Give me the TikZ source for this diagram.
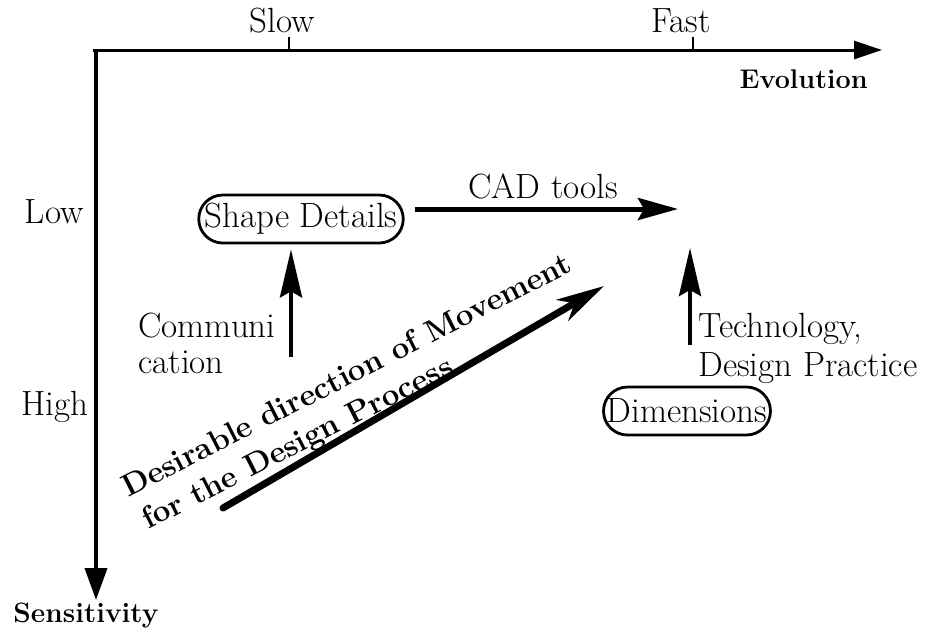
\documentclass[tikz,border=0pt]{standalone}
\usepackage{fontspec}
\usetikzlibrary{arrows.meta,shapes.misc}
\begin{document}
\begin{tikzpicture}[x=0.5pt,y=-0.5pt,
  lbl/.style={font=\fontsize{17.5}{20}\selectfont, inner sep=0pt},
  blbl/.style={font=\fontsize{13.5}{16}\selectfont\bfseries, inner sep=0pt},
  dlbl/.style={font=\fontsize{15.5}{18}\selectfont\bfseries, inner sep=0pt},
  pill/.style={draw, line width=1.4pt, rounded rectangle, inner xsep=1.5pt,
    minimum height=24pt, lbl},
  uparrow/.style={line width=2pt, -{Stealth[length=24pt,width=11pt,inset=3pt]}},
  cadarrow/.style={line width=2.5pt, -{Stealth[length=20pt,width=11pt,inset=3pt]}},
  diagarrow/.style={line width=3.5pt, line cap=round,
    -{Stealth[length=24pt,width=12pt,inset=7pt]}},
]
\useasboundingbox (0,0) rectangle (928,634);

% axes
\coordinate (origin) at (93,50);
\coordinate (vtop) at (96,49);
\coordinate (xend) at (882,50);
\coordinate (yend) at (96,600);
\draw[line width=1.5pt, -{Triangle[length=14pt,width=9pt]}] (origin) -- (xend);
\draw[line width=2pt, -{Triangle[length=16pt,width=11pt]}] (vtop) -- (yend);

% ticks and axis labels
\coordinate (slowtick) at (289,50);
\coordinate (fasttick) at (693,50);
\draw[line width=1pt] (slowtick) -- ++(0,-13);
\draw[line width=1pt] (fasttick) -- ++(0,-13);
\node[lbl, anchor=base] (slow) at (282,32) {Slow};
\node[lbl, anchor=base] (fast) at (681,32) {Fast};
\node[blbl, anchor=base east] (evo) at (868,88) {Evolution};
\node[blbl, font=\fontsize{14}{16}\selectfont\bfseries, anchor=base] (sens) at (86,622) {Sensitivity};
\node[lbl, anchor=base east] (low) at (84,223) {Low};
\node[lbl, anchor=base east] (high) at (89,415) {High};

% boxes
\node[pill] (sd) at (301,219) {Shape Details};
\node[pill] (dim) at (687,411) {Dimensions};

% CAD tools
\coordinate (cadtip) at (678,209);
\draw[cadarrow, shorten <=5pt] (sd.east |- cadtip) -- (cadtip);
\node[lbl, anchor=base] (cad) at (543,198) {CAD tools};

% communication
\coordinate (combot) at (291,357);
\draw[uparrow, shorten >=2.5pt] (combot) -- (combot |- sd.south);
\node[lbl, anchor=base west] (comm1) at (138,337) {Communi};
\node[lbl, anchor=base west] (comm2) at (138,373) {cation};

% technology
\coordinate (techbot) at (690,345);
\coordinate (techtip) at (690,248);
\draw[uparrow] (techbot) -- (techtip);
\node[lbl, anchor=base west] (tech1) at (698,337) {Technology,};
\node[lbl, anchor=base west] (tech2) at (698,376) {Design Practice};

% desirable direction
\coordinate (dstart) at (223,508);
\coordinate (dtip) at (604,286);
\draw[diagarrow] (dstart) -- (dtip);
\node[dlbl, anchor=base west, rotate=27] (d1) at (128,498) {Desirable direction of Movement};
\node[dlbl, anchor=base west, rotate=27] (d2) at (148,530) {for the Design Process};
\end{tikzpicture}
\end{document}
